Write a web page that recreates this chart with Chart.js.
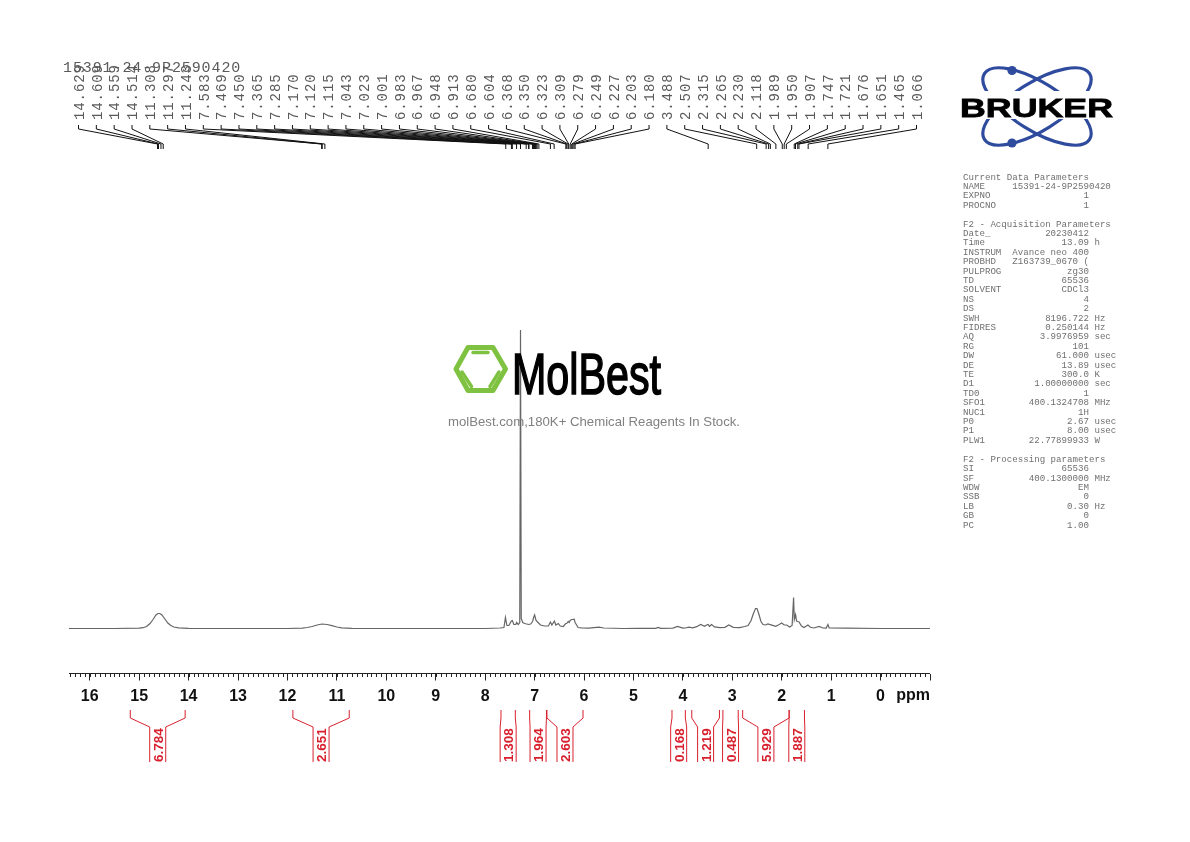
<!DOCTYPE html>
<html>
<head>
<meta charset="utf-8">
<title>1H NMR spectrum</title>
<script src="https://cdn.jsdelivr.net/npm/chart.js@4"></script>
<style>
  html, body { margin: 0; padding: 0; background: #fff; overflow: hidden; }
  #stage { position: relative; width: 1190px; height: 842px; }
  #nmr { position: absolute; left: 0; top: 0; }
  #params {
    position: absolute; left: 963px; top: 172.5px; margin: 0;
    font: 9.13px/9.405px "Liberation Mono", monospace; color: #707070;
  }
  .logo { position: absolute; left: 0; top: 0; pointer-events: none; }
</style>
</head>
<body>
<div id="stage">
  <canvas id="nmr" width="1190" height="842"></canvas>
  <svg class="logo" width="1190" height="842">
    <!-- MolBest watermark -->
    <g fill="none" stroke="#7fc241" stroke-linecap="round" stroke-linejoin="round">
      <path stroke-width="5" d="M468 347.5 H493 L505.5 369 L493 390.5 H468 L456 369 Z"/>
      <path stroke-width="3.5" d="M473 352.5 H488 M462 372 L471.5 386.5 M499 372 L490 386.5"/>
    </g>
    <text x="512" y="394" font-family="Liberation Sans" font-size="57" fill="#000" stroke="#000" stroke-width="1.6" textLength="149" lengthAdjust="spacingAndGlyphs">MolBest</text>
    <text x="448" y="426" font-family="Liberation Sans" font-size="13.5" fill="#808080" textLength="292" lengthAdjust="spacingAndGlyphs">molBest.com,180K+ Chemical Reagents In Stock.</text>
    <!-- Bruker logo -->
    <g fill="none" stroke="#2f4b9e" stroke-width="3.2">
      <ellipse cx="1037" cy="106.5" rx="62" ry="24" transform="rotate(32 1037 106.5)"/>
      <ellipse cx="1037" cy="106.5" rx="62" ry="24" transform="rotate(-32 1037 106.5)"/>
    </g>
    <circle cx="1012" cy="70.5" r="4.6" fill="#2f4b9e"/>
    <circle cx="1012" cy="143" r="4.6" fill="#2f4b9e"/>
    <rect x="955" y="91" width="164" height="28" fill="#fff"/>
    <text x="960" y="116.5" font-family="Liberation Sans" font-weight="bold" font-size="26" fill="#000" stroke="#000" stroke-width="0.8" textLength="153" lengthAdjust="spacingAndGlyphs">BRUKER</text>
  </svg>
  <pre id="params"></pre>
</div>

<script>
  'use strict';

  const datasetName = '15391-24-9P2590420';

  // Spectrum: chemical shift (ppm) and height above baseline
  const shiftPpm = [
    16.42, 15.5, 15.0, 14.92, 14.85, 14.78, 14.72, 14.66, 14.62, 14.58, 14.54, 14.48, 14.42, 14.36, 14.3, 14.2, 14.0,
    12.0, 11.7, 11.6, 11.5, 11.4, 11.3, 11.2, 11.1, 11.0, 10.9, 10.7, 8.0, 7.7, 7.62, 7.59, 7.56, 7.52, 7.47, 7.45,
    7.42, 7.38, 7.365, 7.33, 7.30, 7.285, 7.27, 7.24, 7.2, 7.12, 7.08, 7.04, 7.02, 7.0, 6.97, 6.93, 6.88, 6.8, 6.72,
    6.68, 6.65, 6.60, 6.57, 6.52, 6.48, 6.42, 6.37, 6.35, 6.32, 6.3, 6.28, 6.25, 6.22, 6.2, 6.18, 6.12, 6.05, 5.9,
    5.75, 5.7, 5.6, 5.2, 4.9, 4.55, 4.5, 4.45, 4.2, 4.11, 4.0, 3.95, 3.88, 3.8, 3.72, 3.64, 3.56, 3.52, 3.49, 3.46,
    3.42, 3.36, 3.25, 3.15, 3.07, 2.98, 2.85, 2.75, 2.68, 2.62, 2.58, 2.53, 2.5, 2.46, 2.42, 2.38, 2.33, 2.28, 2.2,
    2.12, 2.06, 2.0, 1.95, 1.9, 1.84, 1.79, 1.76, 1.745, 1.72, 1.7, 1.68, 1.65, 1.6, 1.55, 1.47, 1.42, 1.35, 1.24,
    1.17, 1.1, 1.066, 1.04, 0.7, 0.0, -1.0
  ];
  const intensity = [
    0, 0, 0.3, 0.8, 2, 5, 9, 13.5, 15, 15, 13.5, 9.5, 5.5, 3, 1.5, 0.6, 0.2,
    0, 0.3, 1, 2, 3.5, 4.5, 4, 2.8, 1.5, 0.6, 0.2, 0, 0.5, 1, 11, 3, 3, 7.5, 8,
    4, 4, 6, 4, 6, 298.5, 10, 6, 5, 4, 4.5, 7, 11, 13.5, 8, 6, 3.5, 2.5, 2.5,
    6.5, 3.5, 7.5, 3.5, 5, 2.5, 2, 5, 5, 7, 6, 8, 9, 9, 9.5, 6, 1, 0.6, 0.4,
    1.2, 1.4, 0.5, 0, 0.1, 0.1, 1, 0.2, 0.4, 2, 0.4, 0.5, 1.3, 0.7, 1.8, 4, 2.2, 3.5, 4, 2.2,
    4, 1.6, 0.8, 1.2, 3.5, 1.2, 0.8, 2, 3, 8, 14, 20, 20, 14, 7, 4, 3.5, 4.5, 3.4,
    2.2, 3.8, 5.5, 3.6, 3.5, 1.5, 3, 31, 9, 14, 7.5, 7, 6.5, 2.5, 1, 3.5, 1.2, 0.5, 2,
    0.5, 0.4, 4, 0.5, 0.4, 0, 0
  ];

  // Peak picking labels, left to right
  const peakLabels = [
    14.629, 14.609, 14.559, 14.514, 11.308, 11.297, 11.243, 7.583, 7.469, 7.450, 7.365, 7.285,
    7.170, 7.120, 7.115, 7.043, 7.023, 7.001, 6.983, 6.967, 6.948, 6.913, 6.680, 6.604,
    6.368, 6.350, 6.323, 6.309, 6.279, 6.249, 6.227, 6.203, 6.180, 3.488, 2.507, 2.315,
    2.265, 2.230, 2.118, 1.989, 1.950, 1.907, 1.747, 1.721, 1.676, 1.651, 1.465, 1.066
  ];

  // Integrals: start and end of each region (ppm), with its value
  const integralStart = [15.18, 11.89, 7.68, 7.10, 6.75, 4.22, 3.82, 3.19, 2.79, 1.85];
  const integralEnd = [14.07, 10.75, 7.39, 6.76, 6.02, 3.95, 3.26, 2.88, 1.85, 1.54];
  const integralValues = ['6.784', '2.651', '1.308', '1.964', '2.603', '0.168', '1.219', '0.487', '5.929', '1.887'];

  // Acquisition panel rows: name, value, unit
  const currentParams = [['NAME', datasetName, ''], ['EXPNO', '1', ''], ['PROCNO', '1', '']];
  const acquisitionParams = [
    ['Date_', '20230412', ''], ['Time', '13.09', 'h'], ['INSTRUM', 'Avance neo 400', ''],
    ['PROBHD', 'Z163739_0670 (', ''], ['PULPROG', 'zg30', ''], ['TD', '65536', ''],
    ['SOLVENT', 'CDCl3', ''], ['NS', '4', ''], ['DS', '2', ''], ['SWH', '8196.722', 'Hz'],
    ['FIDRES', '0.250144', 'Hz'], ['AQ', '3.9976959', 'sec'], ['RG', '101', ''],
    ['DW', '61.000', 'usec'], ['DE', '13.89', 'usec'], ['TE', '300.0', 'K'],
    ['D1', '1.00000000', 'sec'], ['TD0', '1', ''], ['SFO1', '400.1324708', 'MHz'],
    ['NUC1', '1H', ''], ['P0', '2.67', 'usec'], ['P1', '8.00', 'usec'], ['PLW1', '22.77899933', 'W']
  ];
  const processingParams = [
    ['SI', '65536', ''], ['SF', '400.1300000', 'MHz'], ['WDW', 'EM', ''], ['SSB', '0', ''],
    ['LB', '0.30', 'Hz'], ['GB', '0', ''], ['PC', '1.00', '']
  ];

  function paramRow(row) {
    // NAME is wider than the value column and starts at col 9
    if (row[1].length > 14) return row[0].padEnd(9) + row[1];
    return (row[0].padEnd(8) + row[1].padStart(15) + ' ' + row[2]).trimEnd();
  }

  document.getElementById('params').textContent = [
    'Current Data Parameters', ...currentParams.map(paramRow), '',
    'F2 - Acquisition Parameters', ...acquisitionParams.map(paramRow), '',
    'F2 - Processing parameters', ...processingParams.map(paramRow)
  ].join('\n');

  // Peak labels and their leader lines above the spectrum
  const peakLabelPlugin = {
    id: 'peakLabels',
    afterDraw(chart) {
      const ctx = chart.ctx;
      const x = chart.scales.x;
      ctx.save();
      ctx.font = '14px "Liberation Mono", monospace';
      ctx.letterSpacing = '0.9px';
      ctx.fillStyle = '#5a5a5a';
      ctx.textBaseline = 'middle';
      ctx.textAlign = 'left';
      ctx.strokeStyle = '#111';
      ctx.lineWidth = 1;
      peakLabels.forEach(function (ppm, i) {
        const labelX = 78.5 + i * 17.83;
        const peakX = x.getPixelForValue(ppm);
        ctx.beginPath();
        ctx.moveTo(labelX, 125);
        ctx.lineTo(labelX, 129);
        ctx.lineTo(peakX, 144);
        ctx.lineTo(peakX, 149);
        ctx.stroke();
        ctx.save();
        ctx.translate(labelX + 1.5, 120);
        ctx.rotate(-Math.PI / 2);
        ctx.fillText(ppm.toFixed(3), 0, 0);
        ctx.restore();
      });
      ctx.font = '15px "Liberation Mono", monospace';
      ctx.fillText(datasetName, 63, 68);
      ctx.restore();
    }
  };

  // Minor ticks, unit label and integral brackets under the axis
  const axisExtrasPlugin = {
    id: 'axisExtras',
    afterDraw(chart) {
      const ctx = chart.ctx;
      const x = chart.scales.x;
      const axisY = chart.chartArea.bottom;
      ctx.save();
      ctx.strokeStyle = '#222';
      ctx.lineWidth = 1;
      ctx.beginPath();
      ctx.moveTo(chart.chartArea.left, axisY);
      ctx.lineTo(chart.chartArea.right, axisY);
      for (let t = -9; t <= 164; t++) {
        const px = Math.round(x.getPixelForValue(t / 10)) + 0.5;
        ctx.moveTo(px, axisY);
        ctx.lineTo(px, axisY + 3.5);
      }
      ctx.stroke();

      ctx.fillStyle = '#111';
      ctx.font = 'bold 16px "Liberation Sans", sans-serif';
      ctx.textAlign = 'right';
      ctx.textBaseline = 'middle';
      ctx.fillText('ppm', 930, 696);

      ctx.strokeStyle = '#d8202e';
      ctx.fillStyle = '#d8202e';
      ctx.lineWidth = 1;
      ctx.font = 'bold 13.5px "Liberation Sans", sans-serif';
      ctx.textAlign = 'left';
      integralValues.forEach(function (value, i) {
        const x1 = x.getPixelForValue(integralStart[i]);
        const x2 = x.getPixelForValue(integralEnd[i]);
        const mid = (x1 + x2) / 2;
        ctx.beginPath();
        ctx.moveTo(x1, 710);
        ctx.lineTo(x1, 718);
        ctx.lineTo(mid - 8, 727);
        ctx.lineTo(mid - 8, 762);
        ctx.moveTo(x2, 710);
        ctx.lineTo(x2, 718);
        ctx.lineTo(mid + 8, 727);
        ctx.lineTo(mid + 8, 762);
        ctx.stroke();
        ctx.save();
        ctx.translate(mid + 1, 762);
        ctx.rotate(-Math.PI / 2);
        ctx.fillText(value, 0, 0.5);
        ctx.restore();
      });
      ctx.restore();
    }
  };

  new Chart(document.getElementById('nmr'), {
    type: 'line',
    data: {
      labels: shiftPpm,
      datasets: [{
        data: intensity,
        borderColor: '#666',
        borderWidth: 1.2,
        pointRadius: 0,
        tension: 0,
        fill: false
      }]
    },
    options: {
      responsive: false,
      animation: false,
      devicePixelRatio: 1,
      layout: { padding: { left: 69, right: 260, top: 328.5, bottom: 68.5 } },
      plugins: { legend: { display: false }, tooltip: { enabled: false } },
      scales: {
        x: {
          type: 'linear',
          reverse: true,
          min: -1,
          max: 16.42,
          afterBuildTicks(scale) {
            scale.ticks = [];
            for (let v = 16; v >= -1; v--) scale.ticks.push({ value: v });
          },
          afterFit(scale) {
            scale.height = 100;
            scale.paddingLeft = 0;
            scale.paddingRight = 0;
          },
          border: { display: false },
          grid: { drawOnChartArea: false, drawTicks: true, tickLength: 7, tickColor: '#222', tickWidth: 1 },
          ticks: {
            autoSkip: false,
            maxRotation: 0,
            padding: 6,
            color: '#111',
            font: { family: '"Liberation Sans", sans-serif', size: 16, weight: 'bold' },
            callback: function (v) { return v >= 0 ? String(v) : ''; }
          }
        },
        y: { display: false, min: -45, max: 300 }
      }
    },
    plugins: [peakLabelPlugin, axisExtrasPlugin]
  });
</script>
</body>
</html>
